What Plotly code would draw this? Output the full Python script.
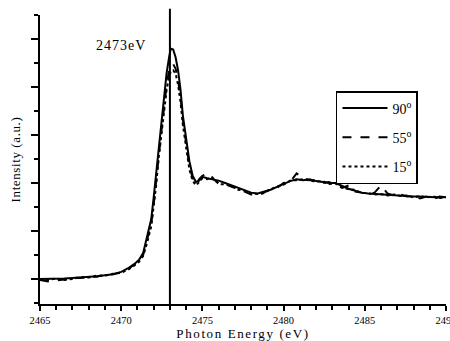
import plotly.graph_objects as go

energy = [2465.0, 2465.5, 2466.0, 2466.5, 2467.0, 2467.5, 2468.0, 2468.5, 2469.0, 2469.5,
          2470.0, 2470.4, 2470.8, 2471.1, 2471.35, 2471.6, 2471.85, 2472.0, 2472.15, 2472.3,
          2472.5, 2472.65, 2472.8, 2472.95, 2473.05, 2473.2, 2473.35, 2473.5, 2473.65, 2473.8,
          2474.0, 2474.2, 2474.4, 2474.6, 2474.8, 2475.0, 2475.3, 2475.6, 2476.0, 2476.4,
          2476.8, 2477.2, 2477.6, 2478.0, 2478.4, 2478.8, 2479.2, 2479.6, 2480.0, 2480.4,
          2480.8, 2481.2, 2481.6, 2482.0, 2482.4, 2482.8, 2483.2, 2483.6, 2484.0, 2484.4,
          2484.8, 2485.2, 2485.6, 2486.0, 2486.4, 2486.8, 2487.2, 2487.6, 2488.0, 2488.4,
          2488.8, 2489.2, 2489.6, 2490.0]

i90 = [0.0, 0.0, 0.0, 0.01, 0.02, 0.03, 0.04, 0.06, 0.08, 0.1,
       0.15, 0.22, 0.31, 0.4, 0.54, 0.88, 1.25, 1.7, 2.2, 2.75,
       3.3, 3.8, 4.3, 4.62, 4.8, 4.78, 4.62, 4.35, 3.95, 3.4,
       2.9, 2.45, 2.15, 2.02, 2.05, 2.13, 2.1, 2.08, 2.05, 2.0,
       1.95, 1.9, 1.85, 1.8, 1.78, 1.82, 1.86, 1.92, 1.98, 2.04,
       2.08, 2.06, 2.08, 2.04, 2.02, 2.0, 2.0, 1.94, 1.88, 1.84,
       1.8, 1.78, 1.77, 1.76, 1.76, 1.75, 1.74, 1.73, 1.72, 1.72,
       1.71, 1.71, 1.7, 1.71]

i55 = [-0.02, -0.05, -0.03, -0.01, 0.03, 0.02, 0.05, 0.05, 0.09, 0.1,
       0.14, 0.2, 0.3, 0.38, 0.5, 0.8, 1.15, 1.55, 2.05, 2.6,
       3.15, 3.6, 4.05, 4.35, 4.45, 4.48, 4.38, 4.15, 3.8, 3.3,
       2.8, 2.35, 2.1, 1.98, 2.08, 2.15, 2.2, 2.1, 2.0, 1.98,
       1.92, 1.88, 1.82, 1.76, 1.75, 1.8, 1.88, 1.9, 2.0, 2.02,
       2.2, 2.1, 2.06, 2.06, 2.0, 2.02, 1.96, 1.9, 1.95, 1.82,
       1.8, 1.77, 1.8, 1.95, 1.78, 1.74, 1.76, 1.72, 1.73, 1.68,
       1.72, 1.66, 1.72, 1.7]

i15 = [0.0, -0.02, 0.01, -0.02, 0.0, 0.04, 0.03, 0.07, 0.07, 0.11,
       0.13, 0.19, 0.28, 0.36, 0.48, 0.76, 1.1, 1.5, 1.95, 2.5,
       3.05, 3.5, 3.95, 4.22, 4.32, 4.35, 4.28, 4.05, 3.7, 3.2,
       2.7, 2.28, 2.05, 1.95, 2.02, 2.1, 2.08, 2.12, 1.98, 1.97,
       1.94, 1.86, 1.84, 1.78, 1.77, 1.79, 1.87, 1.93, 1.97, 2.05,
       2.06, 2.08, 2.05, 2.03, 2.04, 1.98, 1.99, 1.92, 1.87, 1.86,
       1.79, 1.79, 1.76, 1.77, 1.74, 1.76, 1.73, 1.74, 1.7, 1.73,
       1.7, 1.72, 1.69, 1.7]

series_names = ["90<sup>o</sup>", "55<sup>o</sup>", "15<sup>o</sup>"]
series_dash = ["solid", "dash", "dot"]
series_vals = [i90, i55, i15]

x_ticks = [2465, 2470, 2475, 2480, 2485, 2490]
edge_energy = 2473.0
edge_label = "2473eV"

font_family = "Liberation Serif, Times New Roman, serif"

fig = go.Figure()
for k, (name, dash, vals) in enumerate(zip(series_names, series_dash, series_vals)):
    fig.add_trace(go.Scatter(x=energy, y=vals, mode="lines", name=name,
                             legendgroup="g%d" % k,
                             line=dict(color="black", width=2, dash=dash)))

fig.add_shape(type="line", xref="x", yref="paper", x0=edge_energy, x1=edge_energy,
              y0=0, y1=1.022, line=dict(color="black", width=2))

fig.add_annotation(x=2470.0, y=4.87, xref="x", yref="y", text=edge_label,
                   showarrow=False, font=dict(family=font_family, size=14, color="black"))

fig.update_layout(
    width=450, height=341,
    margin=dict(l=40, r=4, t=15, b=37, autoexpand=False),
    paper_bgcolor="white", plot_bgcolor="white",
    font=dict(family=font_family, color="black"),
    showlegend=True,
    legend=dict(x=0.729, y=0.737, xanchor="left", yanchor="top",
                bordercolor="black", borderwidth=1.5, bgcolor="white",
                font=dict(family=font_family, size=14, color="black"),
                tracegroupgap=8, itemwidth=45),
    xaxis=dict(range=[2465, 2490], showline=True, linecolor="black", linewidth=2,
               automargin=False,
               ticks="outside", ticklen=5, tickwidth=1.5, tickcolor="black",
               tickmode="array", tickvals=x_ticks, ticklabeloverflow="allow",
               showgrid=False, zeroline=False,
               minor=dict(dtick=1, tick0=2465, ticklen=4, tickwidth=1.5, tickcolor="black", ticks="outside"),
               tickfont=dict(family=font_family, size=10.5, color="black"),
               title=dict(text="Photon Energy (eV)", standoff=13,
                          font=dict(family=font_family, size=13, color="black"))),
    yaxis=dict(range=[-0.52, 5.5], showline=True, linecolor="black", linewidth=2,
               automargin=False,
               ticks="outside", ticklen=7, tickwidth=1.5, tickcolor="black",
               dtick=1, tick0=0, showticklabels=False, showgrid=False, zeroline=False,
               minor=dict(dtick=0.5, tick0=0, ticklen=4, tickwidth=1.5, tickcolor="black", ticks="outside"),
               title=dict(text="Intensity (a.u.)", standoff=7,
                          font=dict(family=font_family, size=13, color="black"))),
)

post = """
var s = document.createElement('style');
s.textContent = '.xtitle{letter-spacing:1.6px} .ytitle{letter-spacing:0.6px} .annotation-text{letter-spacing:1px}';
document.head.appendChild(s);
"""

fig.write_html("out.html", post_script=post)
